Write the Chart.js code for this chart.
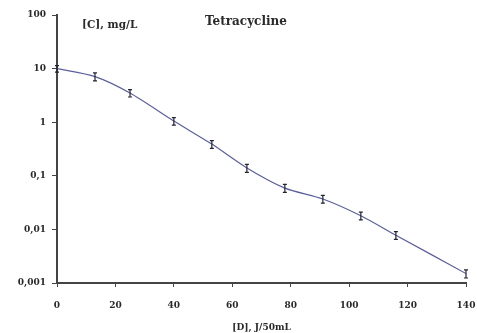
<!DOCTYPE html>
<html>
<head>
<meta charset="utf-8">
<script src="https://cdn.jsdelivr.net/npm/chart.js@4/dist/chart.umd.min.js"></script>
<style>
  html, body { margin: 0; padding: 0; background: #fff; }
  #wrap { width: 477px; height: 333px; position: relative; }
</style>
</head>
<body>
<div id="wrap"><canvas id="chart" width="477" height="333"></canvas></div>
<script>
// dose of D, J/50mL
const doses = [0, 13, 25, 40, 53, 65, 78, 91, 104, 116, 140];
// concentration of tetracycline, mg/L
const conc = [10, 7.1, 3.5, 1.05, 0.39, 0.14, 0.059, 0.037, 0.018, 0.0078, 0.0015];
// error (+/-), mg/L
const concErr = [1.4, 1.2, 0.55, 0.17, 0.065, 0.024, 0.01, 0.006, 0.003, 0.0013, 0.00026];
const yTickValues = [0.001, 0.01, 0.1, 1, 10, 100];
const yTickLabels = ['0,001', '0,01', '0,1', '1', '10', '100'];

const font = { family: 'DejaVu Serif', size: 9, weight: 'bold' };
const ink = '#2a2a2a';

const errorBars = {
  id: 'errorBars',
  afterDatasetsDraw(chart) {
    const ctx = chart.ctx;
    const xs = chart.scales.x, ys = chart.scales.y;
    ctx.save();
    ctx.strokeStyle = '#223';
    ctx.lineWidth = 1.2;
    doses.forEach((d, i) => {
      const px = xs.getPixelForValue(d);
      const top = ys.getPixelForValue(conc[i] + concErr[i]);
      const bot = ys.getPixelForValue(conc[i] - concErr[i]);
      ctx.beginPath();
      ctx.moveTo(px, top); ctx.lineTo(px, bot);
      ctx.moveTo(px - 2, top); ctx.lineTo(px + 2, top);
      ctx.moveTo(px - 2, bot); ctx.lineTo(px + 2, bot);
      ctx.stroke();
    });
    ctx.restore();
  }
};

const labels = {
  id: 'labels',
  afterDraw(chart) {
    const ctx = chart.ctx;
    ctx.save();
    ctx.fillStyle = ink;
    ctx.textBaseline = 'middle';
    ctx.font = 'bold 10.5px "DejaVu Serif"';
    ctx.fillText('[C], mg/L', 82, 25);
    ctx.font = 'bold 12px "DejaVu Serif"';
    ctx.fillText('Tetracycline', 205, 22);
    ctx.restore();
  }
};

new Chart(document.getElementById('chart'), {
  type: 'line',
  data: {
    datasets: [{
      data: doses.map((d, i) => ({ x: d, y: conc[i] })),
      borderColor: '#5b5f9c',
      borderWidth: 1.2,
      pointRadius: 0,
      tension: 0.25,
      fill: false
    }]
  },
  options: {
    responsive: false,
    animation: false,
    layout: { padding: { left: 0, right: 11, top: 15, bottom: 0 } },
    plugins: { legend: { display: false }, tooltip: { enabled: false } },
    scales: {
      x: {
        type: 'linear',
        min: 0, max: 140,
        ticks: { stepSize: 20, color: ink, font: font, padding: 13, maxRotation: 0 },
        grid: { drawOnChartArea: false, drawTicks: true, tickLength: 4, color: '#444' },
        border: { color: '#444', width: 2 },
        title: { display: true, text: '[D], J/50mL', color: ink, font: font, padding: { top: 0, bottom: 0 } },
        afterFit(scale) { scale.height = 50; scale.paddingRight = 0; scale.paddingLeft = 0; }
      },
      y: {
        type: 'logarithmic',
        min: 0.001, max: 100,
        afterBuildTicks(scale) { scale.ticks = yTickValues.map(v => ({ value: v })); },
        ticks: {
          color: ink, font: font, padding: 6,
          callback(v) { const i = yTickValues.indexOf(v); return i >= 0 ? yTickLabels[i] : ''; }
        },
        grid: { drawOnChartArea: false, drawTicks: true, tickLength: 5, color: '#444' },
        border: { color: '#444', width: 2 },
        afterFit(scale) { scale.width = 57; scale.paddingTop = 0; scale.paddingBottom = 0; }
      }
    }
  },
  plugins: [errorBars, labels]
});
</script>
</body>
</html>
